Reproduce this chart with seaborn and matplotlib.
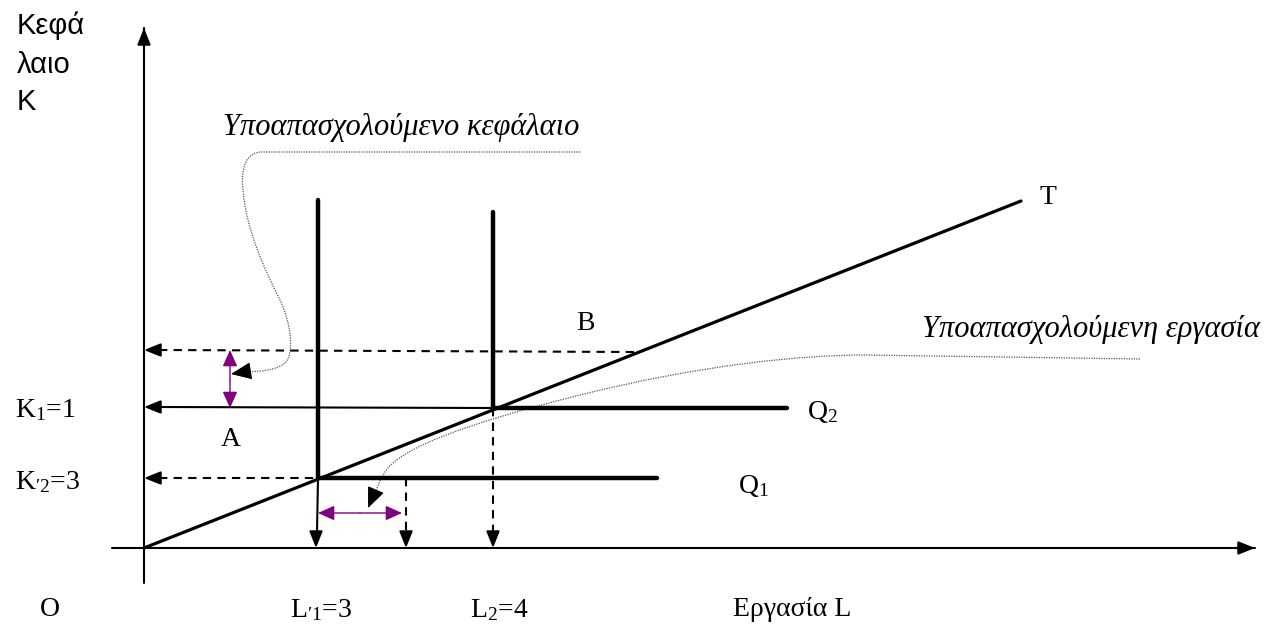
import numpy as np
import pandas as pd
import seaborn as sns
import matplotlib.pyplot as plt
from matplotlib.path import Path
from matplotlib.patches import PathPatch

# Diagram coordinates (pixel grid of the original sketch, y grows downward)
origin = (144, 548)
x_axis_span = [112, 1255]
y_axis_span = [583, 28]

# Expansion path T
ray_x = [144, 1021]
ray_y = [548, 201]

# Isoquants (L-shaped): vertical top, corner, horizontal end
q1_x = [318, 318, 657]
q1_y = [200, 478, 478]
q2_x = [493, 493, 787]
q2_y = [212, 408, 408]

# Levels marked on the axes
k1_level = 408
k2_level = 478
b_level = 351
b_x = 637
l1_x = 318
l_extra_x = 406
l2_x = 493

purple = '#800080'

sns.set_theme(style='white')
plt.rcParams['mathtext.fontset'] = 'custom'
plt.rcParams['mathtext.rm'] = 'Liberation Serif'
plt.rcParams['mathtext.it'] = 'Liberation Serif:italic'

fig = plt.figure(figsize=(12.68, 6.34), dpi=100)
ax = fig.add_axes([0, 0, 1, 1])
ax.set_xlim(0, 1268)
ax.set_ylim(634, 0)
ax.axis('off')


def arrow(tip, start, color='black', lw=1.5, hl=1.0, hw=0.4):
    ax.annotate('', xy=tip, xytext=start,
                arrowprops=dict(arrowstyle=f'-|>,head_length={hl},head_width={hw}',
                                mutation_scale=10, color=color, lw=lw,
                                shrinkA=0, shrinkB=0))


# axes
ax.plot(x_axis_span, [origin[1]] * 2, color='black', lw=1.5)
arrow((x_axis_span[1], origin[1]), (x_axis_span[1] - 20, origin[1]))
ax.plot([origin[0]] * 2, y_axis_span, color='black', lw=1.5)
arrow((origin[0], y_axis_span[1]), (origin[0], y_axis_span[1] + 20))

# ray T and isoquants
lines = pd.DataFrame({
    'x': ray_x + q1_x + q2_x,
    'y': ray_y + q1_y + q2_y,
    'curve': ['T'] * 2 + ['Q1'] * 3 + ['Q2'] * 3,
})
sns.lineplot(data=lines[lines.curve == 'T'], x='x', y='y', sort=False,
             estimator=None, color='black', lw=2.3, ax=ax)
sns.lineplot(data=lines[lines.curve != 'T'], x='x', y='y', units='curve',
             sort=False, estimator=None, color='black', lw=3.2, ax=ax)

dash = (0, (4, 3))
# horizontal guides to the K axis
ax.plot([origin[0] + 15, l2_x], [k1_level - 1, k1_level], color='black', lw=1.5)
arrow((origin[0], k1_level - 1), (origin[0] + 16, k1_level - 1))
ax.plot([origin[0] + 15, l1_x], [k2_level] * 2, color='black', lw=1.5, ls=dash)
arrow((origin[0], k2_level), (origin[0] + 16, k2_level))
ax.plot([origin[0] + 15, b_x], [b_level - 1, b_level + 1], color='black', lw=1.5, ls=dash)
arrow((origin[0], b_level - 1), (origin[0] + 16, b_level - 1))

# vertical guides to the L axis
ax.plot([l1_x, l1_x - 1], [k2_level, origin[1] - 15], color='black', lw=1.5)
arrow((l1_x - 2, origin[1]), (l1_x - 2, origin[1] - 16))
ax.plot([l_extra_x] * 2, [k2_level, origin[1] - 15], color='black', lw=1.5, ls=dash)
arrow((l_extra_x, origin[1]), (l_extra_x, origin[1] - 16))
ax.plot([l2_x] * 2, [k1_level, origin[1] - 15], color='black', lw=1.5, ls=dash)
arrow((l2_x, origin[1]), (l2_x, origin[1] - 16))

# purple double arrows
for tip, start in [((230, b_level - 1), (230, 380)), ((230, k1_level), (230, 380)),
                   ((l1_x, 513), (360, 513)), ((402, 513), (360, 513))]:
    ax.annotate('', xy=tip, xytext=start,
                arrowprops=dict(arrowstyle='-|>,head_length=1.0,head_width=0.45',
                                mutation_scale=10, color=purple, lw=1.0,
                                shrinkA=0, shrinkB=0))

# dotted leader curves
c1 = [(580, 152), (262, 152),
      (248, 152), (240, 165), (243, 190),
      (246, 230), (265, 270), (280, 300),
      (292, 325), (294, 355), (285, 363),
      (275, 371), (260, 371), (248, 372)]
c1_codes = [Path.MOVETO, Path.LINETO] + [Path.CURVE4] * 12
c2 = [(1140, 359), (865, 355),
      (800, 355), (700, 365), (580, 395),
      (460, 425), (405, 448), (388, 468),
      (380, 478), (377, 488), (375, 495)]
c2_codes = [Path.MOVETO, Path.LINETO] + [Path.CURVE4] * 9
for verts, codes in [(c1, c1_codes), (c2, c2_codes)]:
    ax.add_patch(PathPatch(Path(verts, codes), fill=False, edgecolor='#555555',
                           lw=0.9, ls=(0, (1, 1))))
arrow((231, 374), (250, 371), lw=0.8, hl=1.3, hw=0.55)
arrow((368, 508), (374, 494), lw=0.8, hl=1.3, hw=0.55)

# labels
sans = dict(family='Liberation Sans', fontsize=21, color='black', va='baseline', ha='left')
serif = dict(family='Liberation Serif', fontsize=20, color='black', va='center', ha='left')
ital = dict(family='Liberation Serif', style='italic', fontsize=22, color='black',
            va='center', ha='left')

ax.text(17, 34, 'Κεφά', **sans)
ax.text(17, 73, 'λαιο', **sans)
ax.text(17, 110, 'Κ', **sans)

ax.text(223, 127, 'Υποαπασχολούμενο κεφάλαιο', **ital)
ax.text(1260, 330, 'Υποαπασχολούμενη εργασία', **{**ital, 'ha': 'right'})

ax.text(1040, 197, 'T', **serif)
ax.text(576, 323, 'B', **serif)
ax.text(221, 440, 'A', **serif)
ax.text(15, 410, r'K$_{1}$=1', **serif)
ax.text(15, 482, r'K$_{\prime 2}$=3', **serif)
ax.text(807, 412, r'Q$_{2}$', **serif)
ax.text(738, 486, r'Q$_{1}$', **serif)

ax.text(40, 610, 'O', **serif)
ax.text(290, 610, r'L$_{\prime 1}$=3', **serif)
ax.text(470, 610, r'L$_{2}$=4', **serif)
ax.text(733, 610, 'Εργασία L', **serif)

fig.savefig('out.png', dpi=100)
